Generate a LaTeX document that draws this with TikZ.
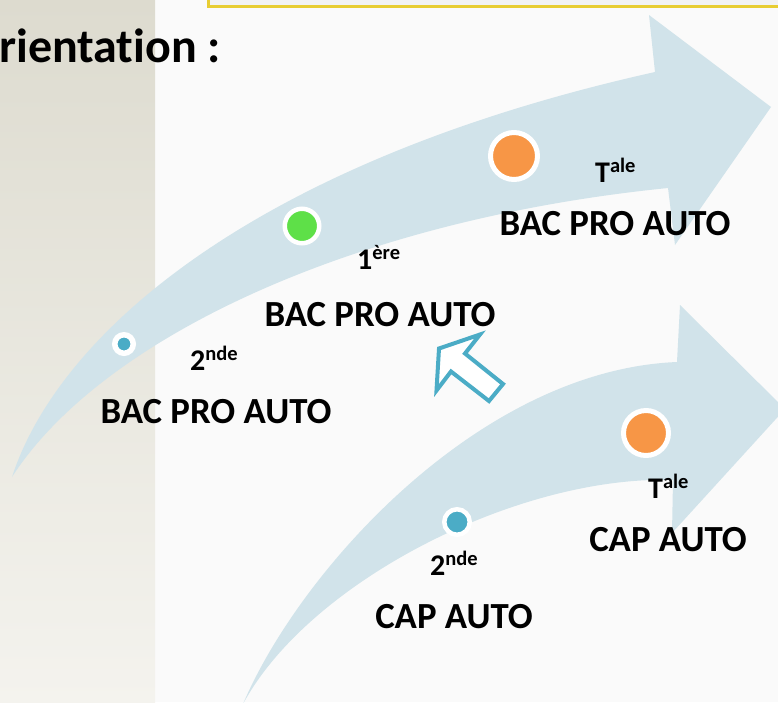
\documentclass[tikz,border=0pt]{standalone}
\usepackage{fontspec}
\setmainfont{Carlito}[Ligatures=NoCommon]
\definecolor{band}{RGB}{209,227,234}
\definecolor{bg}{RGB}{250,250,250}
\definecolor{paneltop}{RGB}{221,219,207}
\definecolor{panelbot}{RGB}{244,243,238}
\definecolor{boxfill}{RGB}{242,242,242}
\definecolor{boxline}{RGB}{232,205,50}
\definecolor{dteal}{RGB}{75,172,198}
\definecolor{dgreen}{RGB}{94,224,72}
\definecolor{dorange}{RGB}{247,150,70}
\newcommand\myup[1]{\raisebox{9.5pt}{\fontsize{20.5}{20}\selectfont #1}}
\tikzset{
  course/.style={font=\bfseries\fontsize{36.8}{40}\selectfont, inner sep=0pt, anchor=base},
  year/.style={font=\bfseries\fontsize{30}{32}\selectfont, inner sep=0pt, anchor=base west},
  dotnode/.style={circle, draw=white, inner sep=0pt},
  bandshape/.style={fill=band},
  outarrow/.style={draw=dteal, fill=white, line width=4pt, line join=miter}
}
\begin{document}
\begin{tikzpicture}[x=1pt,y=-1pt]
\useasboundingbox (0,0) rectangle (778,702);
\clip (0,0) rectangle (778,702);
% background
\fill[bg] (0,0) rectangle (778,702);
\shade[top color=paneltop, bottom color=panelbot] (0,0) rectangle (155,702);
% yellow box at top
\draw[boxline, fill=boxfill, line width=3pt] (208,-20) rectangle (800,6);
% title
\node[font=\bfseries\fontsize{48}{52}\selectfont, inner sep=0pt, anchor=base west] (title) at (-1,62) {rientation :};
% upper big arrow
\path[bandshape] (12,477) .. controls (60,330) and (260,160) .. (655,72)
  -- (649,15) -- (771,107) -- (675,245) -- (668,188)
  .. controls (350,220) and (100,340) .. (12,477) -- cycle;
% lower big arrow
\path[bandshape] (243,704) .. controls (300,570) and (480,370) .. (677,362)
  -- (680,305) -- (785,409) -- (672,533) -- (673,480)
  .. controls (520,475) and (310,580) .. (243,704) -- cycle;
% small outline arrow
\draw[outarrow] (503,384) -- (465,353.5) -- (480,334.5) -- (439,348.5)
  -- (436.5,390.5) -- (451,371.5) -- (489,401) -- cycle;
% dots
\node[dotnode, fill=dteal, minimum size=18.5pt, line width=5.5pt] (d1) at (124,344) {};
\node[dotnode, fill=dgreen, minimum size=34.5pt, line width=4.5pt] (d2) at (302,226) {};
\node[dotnode, fill=dorange, minimum size=47pt, line width=5pt] (d3) at (514,156) {};
\node[dotnode, fill=dteal, minimum size=25.5pt, line width=4.5pt] (d4) at (457,522) {};
\node[dotnode, fill=dorange, minimum size=45pt, line width=5pt] (d5) at (646,433) {};
% year labels
\node[year] (y1) at (190,370) {2\myup{nde}};
\node[year] (y2) at (357,269) {1\myup{ère}};
\node[year] (y3) at (595,182) {T\myup{ale}};
\node[year] (y4) at (430,575) {2\myup{nde}};
\node[year] (y5) at (648,498) {T\myup{ale}};
% course labels
\node[course] (c1) at (216,423) {BAC PRO AUTO};
\node[course] (c2) at (380,326) {BAC PRO AUTO};
\node[course] (c3) at (615,235) {BAC PRO AUTO};
\node[course] (c4) at (454,628) {CAP AUTO};
\node[course] (c5) at (668,551) {CAP AUTO};
\end{tikzpicture}
\end{document}
